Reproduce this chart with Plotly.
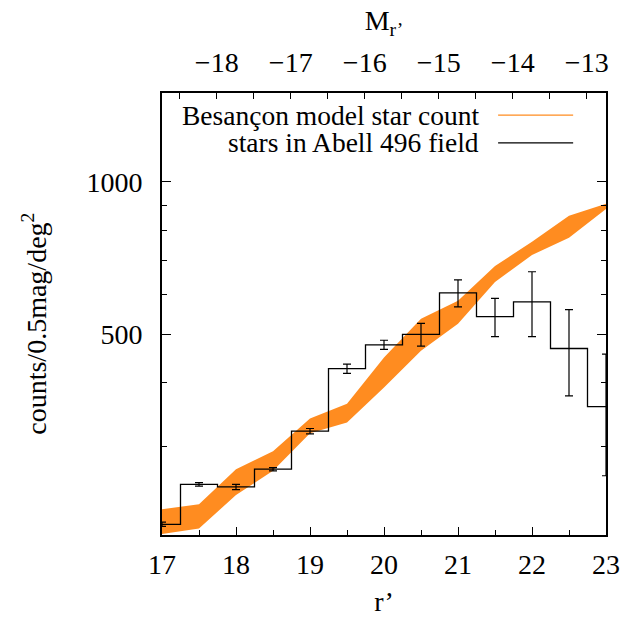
import math
import plotly.graph_objects as go

# ---- data ----
r_mag = [17.0, 17.5, 18.0, 18.5, 19.0, 19.5, 20.0, 20.5, 21.0, 21.5, 22.0, 22.5, 23.0]
model_low = [201, 206, 240, 268, 318, 334, 392, 463, 524, 634, 717, 775, 884]
model_high = [225, 230, 270, 293, 340, 364, 449, 536, 582, 682, 761, 857, 905]
star_counts = [210, 252, 249, 270, 321, 427, 476, 499, 603, 541, 579, 468, 359]
star_err = [2, 2, 3, 2, 4, 9, 10, 26, 37, 47, 85, 91, 97]

x_range = [17, 23]
y_range = [200, 1500]
y_major = [500, 1000]
y_minor = [300, 400, 600, 700, 800, 900]
abs_mag_ticks = [-18, -17, -16, -15, -14, -13]
distance_modulus = 35.74

FONT = "Liberation Serif"
FS = 28
ORANGE = "rgb(255,140,32)"

fig = go.Figure()

# model band
fig.add_trace(go.Scatter(
    x=r_mag + r_mag[::-1],
    y=model_high + model_low[::-1],
    fill="toself", fillcolor=ORANGE, mode="lines",
    line=dict(width=0, color=ORANGE), hoverinfo="skip", showlegend=False,
))

# histogram steps
fig.add_trace(go.Scatter(
    x=r_mag, y=star_counts, mode="lines",
    line=dict(shape="hvh", color="black", width=1.3), showlegend=False,
))

# error bars
fig.add_trace(go.Scatter(
    x=r_mag, y=star_counts, mode="markers", cliponaxis=False,
    marker=dict(size=1, color="rgba(0,0,0,0)"),
    error_y=dict(type="data", array=star_err, visible=True, color="black",
                 thickness=1.2, width=4),
    showlegend=False,
))

# invisible trace for top axis
fig.add_trace(go.Scatter(
    x=[x_range[0] - distance_modulus, x_range[1] - distance_modulus],
    y=[y_range[0], y_range[0]], xaxis="x2", mode="markers",
    marker=dict(size=1, color="rgba(0,0,0,0)"), showlegend=False, hoverinfo="skip",
))

tickfont = dict(family=FONT, size=FS, color="black")

fig.update_layout(
    width=642, height=617,
    margin=dict(l=162, r=36, t=93, b=82),
    paper_bgcolor="white", plot_bgcolor="white",
    font=dict(family=FONT, size=FS, color="black"),
    showlegend=False,
    xaxis=dict(
        range=x_range, dtick=1, tick0=17, ticks="inside", ticklen=8, tickwidth=1.3,
        tickcolor="black", showline=True, linecolor="black", linewidth=1.8,
        mirror=True, showgrid=False, zeroline=False, tickfont=tickfont,
        ticklabelstandoff=3, automargin=False,
        minor=dict(dtick=0.5, tick0=17, ticks="inside", ticklen=5, tickwidth=1.3,
                   tickcolor="black", showgrid=False),
        title=dict(text="r’", font=dict(family=FONT, size=FS), standoff=19),
    ),
    xaxis2=dict(
        overlaying="x", side="top", anchor="y",
        range=[x_range[0] - distance_modulus, x_range[1] - distance_modulus],
        tickmode="array", tickvals=abs_mag_ticks,
        ticks="inside", ticklen=6, tickwidth=1.3, tickcolor="black",
        showgrid=False, zeroline=False, showline=False, tickfont=tickfont,
        ticklabelstandoff=14, automargin=False,
        minor=dict(dtick=0.5, tick0=-18, ticks="inside", ticklen=6, tickwidth=1.3,
                   tickcolor="black", showgrid=False),
        title=dict(text="M<sub>r’</sub>", font=dict(family=FONT, size=FS), standoff=8),
    ),
    yaxis=dict(
        type="log", range=[math.log10(y_range[0]), math.log10(y_range[1])],
        tickmode="array", tickvals=y_major, ticktext=[str(v) for v in y_major],
        ticks="inside", ticklen=9, tickwidth=1.3, tickcolor="black",
        showline=True, linecolor="black", linewidth=1.8, mirror="ticks",
        showgrid=False, zeroline=False, tickfont=tickfont, ticklabelstandoff=12,
        automargin=False,
        minor=dict(tickmode="array", tickvals=y_minor, ticks="inside", ticklen=5,
                   tickwidth=1.3, tickcolor="black", showgrid=False),
    ),
)

# y-axis title placed as rotated text
fig.add_annotation(x=-0.287, y=0.477, xref="paper", yref="paper",
                   text="counts/0.5mag/deg<sup>2</sup>", textangle=-90,
                   showarrow=False, xanchor="center", yanchor="middle",
                   font=dict(family=FONT, size=FS, color="black"))

# gnuplot-style key (text right-aligned, sample on the right)
key_items = [("Besançon model star count", ORANGE, 0.950),
             ("stars in Abell 496 field", "black", 0.887)]
for label, col, yk in key_items:
    fig.add_annotation(x=0.716, y=yk, xref="paper", yref="paper", text=label,
                       showarrow=False, xanchor="right", yanchor="middle",
                       borderpad=0,
                       font=dict(family=FONT, size=27.5, color="black"))
    fig.add_shape(type="line", xref="paper", yref="paper", x0=0.757, x1=0.926,
                  y0=yk, y1=yk, line=dict(color=col, width=1.3))

fig.write_html("out.html")
